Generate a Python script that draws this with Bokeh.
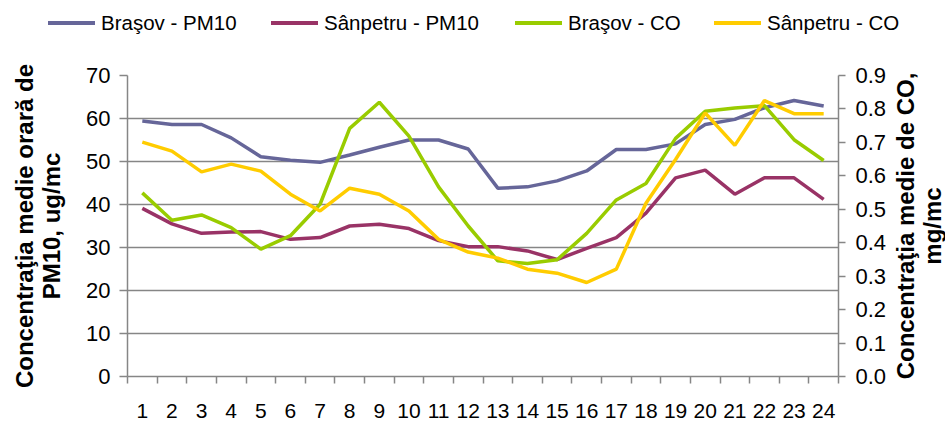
from bokeh.plotting import figure
from bokeh.layouts import row, column
from bokeh.models import Range1d, LinearAxis, FixedTicker, PrintfTickFormatter, Div
from bokeh.embed import file_html
from bokeh.resources import INLINE

# ---- data ----
hours = list(range(1, 25))
brasov_pm10 = [59.4, 58.6, 58.6, 55.5, 51.1, 50.3, 49.8, 51.5, 53.3, 55.0, 55.0, 52.9,
               43.8, 44.1, 45.5, 47.8, 52.8, 52.8, 54.1, 58.6, 59.8, 62.5, 64.2, 62.9]
sanpetru_pm10 = [39.1, 35.5, 33.3, 33.6, 33.7, 31.9, 32.3, 35.0, 35.4, 34.4, 31.6, 30.2,
                 30.2, 29.2, 27.2, 29.8, 32.3, 38.0, 46.2, 48.0, 42.4, 46.2, 46.2, 41.2]
brasov_co = [0.549, 0.467, 0.483, 0.445, 0.381, 0.421, 0.515, 0.742, 0.820, 0.719, 0.567, 0.450,
             0.346, 0.338, 0.349, 0.428, 0.528, 0.577, 0.712, 0.793, 0.803, 0.810, 0.708, 0.646]
sanpetru_co = [0.701, 0.674, 0.612, 0.635, 0.614, 0.545, 0.495, 0.563, 0.545, 0.495, 0.410, 0.372,
               0.354, 0.321, 0.309, 0.281, 0.321, 0.518, 0.649, 0.788, 0.691, 0.825, 0.786, 0.786]
series_names = ["Braşov - PM10", "Sânpetru - PM10", "Braşov - CO", "Sânpetru - CO"]
pm_ticks = [0, 10, 20, 30, 40, 50, 60, 70]
co_ticks = [0.0, 0.1, 0.2, 0.3, 0.4, 0.5, 0.6, 0.7, 0.8, 0.9]
left_title = "Concentraţia medie orară de\nPM10, ug/mc"
right_title = "Concentraţia medie de CO,\nmg/mc"

# ---- styles ----
colors = ["#666699", "#993366", "#99CC00", "#FFCC00"]
GRAY = "#868686"
FONT = "Liberation Sans"
LW = 3.5
legend_key_x = [48, 271, 515, 714]


def style_title(ax, text, standoff):
    ax.axis_label = text
    ax.axis_label_text_font = FONT
    ax.axis_label_text_font_size = "24px"
    ax.axis_label_text_font_style = "bold"
    ax.axis_label_text_color = "black"
    ax.axis_label_text_line_height = 1.0
    ax.axis_label_standoff = standoff


def style_ticks(ax, tick_out, standoff, size="22px"):
    ax.axis_line_color = GRAY
    ax.axis_line_width = 1.5
    ax.major_tick_line_color = GRAY
    ax.major_tick_line_width = 1.5
    ax.major_tick_out = tick_out
    ax.major_tick_in = 0
    ax.minor_tick_line_color = None
    ax.major_label_text_font = FONT
    ax.major_label_text_font_size = size
    ax.major_label_text_color = "black"
    ax.major_label_standoff = standoff


# ---- legend strip (HTML) ----
parts = []
for name, c, kx in zip(series_names, colors, legend_key_x):
    parts.append(f'<span style="position:absolute;left:{kx}px;top:21px;width:47px;height:4px;'
                 f'background:{c};"></span>')
    parts.append(f'<span style="position:absolute;left:{kx + 53}px;top:13px;line-height:20.5px;'
                 f'white-space:nowrap;color:#000;">{name}</span>')
legend_html = (f'<div style="position:relative;width:945px;height:40px;font-family:\'{FONT}\';'
               f'font-size:20.5px;">' + "".join(parts) + '</div>')
legend_div = Div(text=legend_html, width=945, height=40, margin=0)

# ---- main chart ----
p = figure(width=889, height=383, output_backend="svg", toolbar_location=None,
           x_range=Range1d(0.5, 24.5), y_range=Range1d(0, 70),
           min_border_left=127, min_border_right=49, min_border_top=35, min_border_bottom=47,
           background_fill_color="white", border_fill_color="white")
p.outline_line_color = None
p.extra_y_ranges = {"co": Range1d(0, 0.9)}

p.xgrid.grid_line_color = None
pm_ticker = FixedTicker(ticks=pm_ticks)
p.yaxis.ticker = pm_ticker
p.ygrid.ticker = pm_ticker
p.ygrid.grid_line_color = GRAY
p.ygrid.grid_line_width = 1.5

ya = p.yaxis[0]
style_ticks(ya, 8, 9)
style_title(ya, left_title, 18)

bounds = [h - 0.5 for h in hours] + [hours[-1] + 0.5]
xa = p.xaxis[0]
style_ticks(xa, 0, 20, "21px")
xa.ticker = FixedTicker(ticks=hours, minor_ticks=bounds)
xa.major_tick_line_color = None
xa.minor_tick_line_color = GRAY
xa.minor_tick_line_width = 1.5
xa.minor_tick_out = 7
xa.minor_tick_in = 0

ra = LinearAxis(y_range_name="co", ticker=FixedTicker(ticks=co_ticks),
                formatter=PrintfTickFormatter(format="%.1f"))
style_ticks(ra, 7, 10)
p.add_layout(ra, "right")

p.line(hours, brasov_pm10, line_color=colors[0], line_width=LW)
p.line(hours, sanpetru_pm10, line_color=colors[1], line_width=LW)
p.line(hours, brasov_co, line_color=colors[2], line_width=LW, y_range_name="co")
p.line(hours, sanpetru_co, line_color=colors[3], line_width=LW, y_range_name="co")

# ---- narrow strip on the right carrying the CO axis title (reads bottom to top) ----
pt = figure(width=56, height=383, output_backend="svg", toolbar_location=None,
            x_range=Range1d(0, 1), y_range=Range1d(0, 0.9), x_axis_location=None,
            min_border_left=52, min_border_right=0, min_border_top=35, min_border_bottom=47,
            background_fill_color="white", border_fill_color="white")
pt.outline_line_color = None
pt.xgrid.visible = False
pt.ygrid.visible = False
ta = pt.yaxis[0]
ta.ticker = FixedTicker(ticks=[])
ta.axis_line_color = None
ta.major_tick_line_color = None
ta.minor_tick_line_color = None
ta.major_tick_out = 0
ta.major_tick_in = 0
ta.minor_tick_out = 0
ta.major_label_standoff = 0
style_title(ta, right_title, 0)

layout = column(legend_div, row(p, pt, spacing=0), spacing=0)
open("out.html", "w").write(file_html(layout, INLINE))
